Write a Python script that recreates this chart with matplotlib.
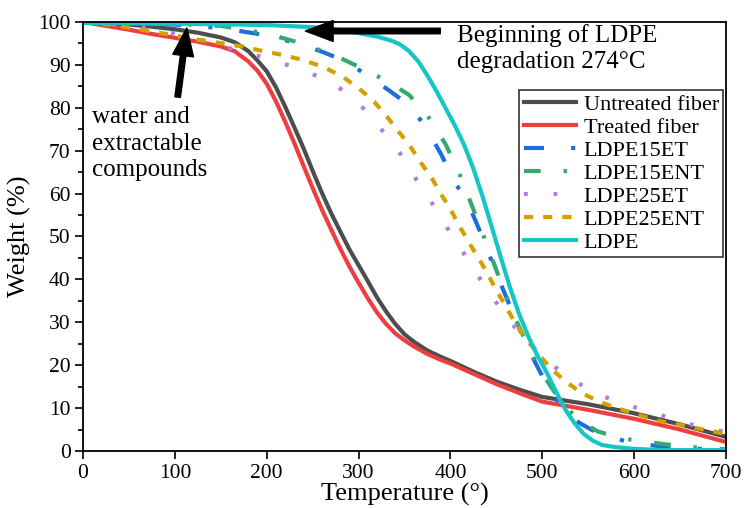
import matplotlib
matplotlib.use("Agg")
import matplotlib.pyplot as plt

plt.rcParams['font.family'] = 'serif'
plt.rcParams['font.serif'] = ['Liberation Serif', 'DejaVu Serif']

# TGA curves: temperature (deg) and weight (%)
untreated_t = [0, 25, 50, 75, 100, 125, 150, 165, 180, 190, 200, 210, 220, 230, 240, 250, 260, 270, 280,
               290, 300, 310, 320, 330, 340, 350, 360, 375, 390, 400, 425, 450, 475, 500, 550, 600, 650, 700]
untreated_w = [100, 99.7, 99.4, 98.9, 98.3, 97.5, 96.4, 95.3, 93.2, 91, 88.5, 84.8, 80.3, 75.5, 70.6, 65.3,
               60.2, 55.5, 51.2, 47, 43.3, 39.6, 35.8, 32.5, 29.6, 27.2, 25.5, 23.4, 21.9, 21.0, 18.5, 16.2,
               14.3, 12.6, 10.9, 8.8, 6.2, 3.3]

treated_t = [0, 25, 50, 75, 100, 125, 150, 165, 180, 190, 200, 210, 220, 230, 240, 250, 260, 270, 280,
             290, 300, 310, 320, 330, 340, 350, 360, 375, 390, 400, 425, 450, 475, 500, 550, 600, 650, 700]
treated_w = [100, 99.1, 98.2, 97.2, 96.3, 95.4, 94.3, 93.2, 90.8, 88.6, 85.6, 81.5, 76.8, 71.8, 66.5, 61.3,
             56.3, 51.7, 47.2, 43, 39.2, 35.6, 32.3, 29.6, 27.4, 25.8, 24.4, 22.6, 21.2, 20.4, 18, 15.6,
             13.5, 11.5, 9.6, 7.5, 5.0, 2.1]

ldpe15et_t = [0, 50, 100, 150, 200, 230, 260, 285, 305, 325, 345, 360, 375, 390, 405, 420, 435, 450,
              465, 480, 495, 510, 525, 540, 555, 570, 590, 610, 640, 670, 700]
ldpe15et_w = [99.9, 99.7, 99.4, 98.6, 96.9, 95.2, 93.1, 90.9, 88.2, 85.3, 82.2, 79.4, 74.8, 69.1, 62.6,
              57.3, 49.8, 41.4, 33.7, 26, 19.5, 13.5, 9.2, 6.6, 4.8, 3.6, 2.3, 1.5, 0.9, 0.5, 0.3]

ldpe15ent_t = [0, 50, 100, 150, 200, 240, 280, 310, 335, 355, 375, 395, 410, 425, 440, 455, 470, 485,
               500, 520, 540, 560, 585, 615, 640, 670, 700]
ldpe15ent_w = [100, 99.8, 99.5, 99.1, 97.3, 94.9, 91.6, 88.6, 85.7, 83, 78.2, 71.4, 64.5, 56.3, 47.9,
               39.3, 31.2, 24.1, 18, 11.6, 7.2, 4.6, 3, 2.1, 1.4, 0.8, 0.4]

ldpe25et_t = [0, 35, 70, 98, 130, 158, 187, 217, 245, 272, 297, 316, 332, 349, 363, 378, 392, 407, 421,
              436, 452, 468, 488, 508, 530, 555, 582, 610, 639, 668, 700]
ldpe25et_w = [100, 99.4, 98.6, 97.4, 95.7, 94, 92.3, 90.4, 88.3, 85.8, 81.7, 77.4, 73, 68.3, 63.2, 58.5,
              53.4, 48.7, 43.8, 38.9, 34, 29.4, 24.6, 20.5, 17, 13.8, 11.4, 9.6, 7.7, 5.8, 4.4]

ldpe25ent_t = [0, 33, 80, 104, 127, 149, 173, 196, 218, 240, 262, 283, 301, 317, 331, 343, 356, 367, 379,
               389, 400, 409, 419, 430, 440, 450, 460, 470, 482, 495, 509, 526, 543, 563, 584, 605, 627,
               650, 673, 700]
ldpe25ent_w = [100, 99.3, 97.6, 96.7, 95.8, 95.1, 94.3, 93.2, 92.3, 91.1, 89.5, 87.2, 84.4, 81.4, 77.9,
               74.6, 71.1, 67.4, 63.9, 60.1, 56.4, 52.7, 49, 45.2, 41.5, 37.5, 33.8, 30, 26.2, 22.8, 19.3,
               16.1, 13.5, 11.4, 9.8, 8.4, 7, 6.1, 5.1, 4.0]

ldpe_t = [0, 100, 200, 250, 280, 300, 320, 335, 345, 355, 365, 375, 385, 395, 405, 415, 425, 435, 445,
          455, 465, 475, 485, 495, 505, 515, 525, 535, 545, 555, 565, 580, 600, 630, 700]
ldpe_w = [99.8, 99.6, 99.3, 98.8, 98.1, 97.4, 96.6, 95.7, 94.8, 93.2, 90.8, 87.5, 83.8, 79.8, 75.8,
          71.3, 65.8, 59.3, 52.2, 45, 38, 31.8, 26.6, 22.1, 18.2, 13.8, 9.7, 6.5, 4.0, 2.4, 1.4,
          0.9, 0.5, 0.2, 0.2]

fig = plt.figure(figsize=(7.44, 5.08), dpi=100)
ax = fig.add_axes([0.1116, 0.1122, 0.8642, 0.8445])

lw = 3
ax.plot(untreated_t, untreated_w, color='#4d4d4d', lw=lw, label='Untreated fiber')
ax.plot(treated_t, treated_w, color='#ef3e3e', lw=lw, label='Treated fiber')
ax.plot(ldpe15et_t, ldpe15et_w, color='#1c6edc', lw=lw, dashes=(4.8, 6.5, 1, 6.5), label='LDPE15ET')
ax.plot(ldpe15ent_t, ldpe15ent_w, color='#36aa6a', lw=lw, dashes=(4.0, 5.5, 0.8, 5.5), label='LDPE15ENT')
ax.plot(ldpe25et_t, ldpe25et_w, color='#b37adf', lw=lw, dashes=(0.9, 6.2), label='LDPE25ET')
ax.plot(ldpe25ent_t, ldpe25ent_w, color='#d3a000', lw=lw, dashes=(2.2, 2.4), label='LDPE25ENT')
ax.plot(ldpe_t, ldpe_w, color='#14c6c8', lw=lw, label='LDPE')

ax.set_xlim(0, 700)
ax.set_ylim(0, 100)
ax.set_xticks(range(0, 701, 100))
ax.set_yticks(range(0, 101, 10))
ax.set_yticks(range(5, 100, 10), minor=True)
ax.tick_params(direction='out', length=6, width=1.2, labelsize=15.5, pad=3)
ax.tick_params(which='minor', direction='out', length=3.5, width=1.2)
for s in ax.spines.values():
    s.set_linewidth(1.3)

ax.set_xlabel('Temperature (°)', fontsize=19, labelpad=0)
ax.set_ylabel('Weight (%)', fontsize=19, labelpad=5)

# annotations
arrow = dict(facecolor='black', edgecolor='black', width=4, headwidth=15, headlength=20, shrink=0)
ax.annotate('', xy=(113, 98.6), xytext=(103, 82.5), arrowprops=arrow)
ax.text(10, 80.4, 'water and\nextractable\ncompounds', fontsize=18, va='top', ha='left', linespacing=1.27)
ax.annotate('', xy=(242, 97.9), xytext=(389, 97.9), arrowprops=arrow, annotation_clip=False)
ax.text(407, 99.6, 'Beginning of LDPE\ndegradation 274°C', fontsize=18, va='top', ha='left',
        linespacing=1.27)

leg = ax.legend(loc='upper right', bbox_to_anchor=(0.996, 0.842), borderaxespad=0, fontsize=16,
                handlelength=2.35, labelspacing=0.11, handletextpad=0.35, borderpad=0.2,
                frameon=True, fancybox=False, edgecolor='black')
leg.get_frame().set_linewidth(1.2)

fig.savefig('out.png', dpi=100)
